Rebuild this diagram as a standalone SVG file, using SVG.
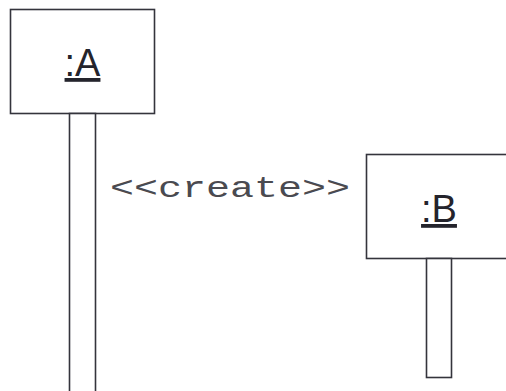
<svg xmlns="http://www.w3.org/2000/svg" width="506" height="391" viewBox="0 0 506 391">
  <style>
    .obj { fill: #ffffff; stroke: #34343c; stroke-width: 1.6; }
    .bar { fill: #ffffff; stroke: #34343c; stroke-width: 1.6; }
    .name { font-family: "Liberation Sans", Arial, sans-serif; font-size: 38px; fill: #24242c; text-anchor: middle; text-decoration: underline; }
    .stereo { font-family: "Liberation Mono", "Courier New", monospace; font-size: 30px; fill: #4a4a50; }
  </style>
  <rect width="506" height="391" fill="#ffffff"/>

  <!-- lifeline A -->
  <g id="nodeA">
    <rect class="obj" x="10.5" y="9.5" width="144" height="104"/>
    <text class="name" x="82.5" y="76">:A</text>
    <rect class="bar" x="69.5" y="113.5" width="26" height="290"/>
  </g>

  <!-- lifeline B -->
  <g id="nodeB">
    <rect class="obj" x="366.5" y="154.5" width="146" height="104"/>
    <text class="name" x="439" y="222">:B</text>
    <rect class="bar" x="426.5" y="258.5" width="25" height="119"/>
  </g>

  <!-- creation message label -->
  <g id="connectors">
    <text class="stereo" x="110" y="197" textLength="240" lengthAdjust="spacingAndGlyphs">&lt;&lt;create&gt;&gt;</text>
  </g>
</svg>
